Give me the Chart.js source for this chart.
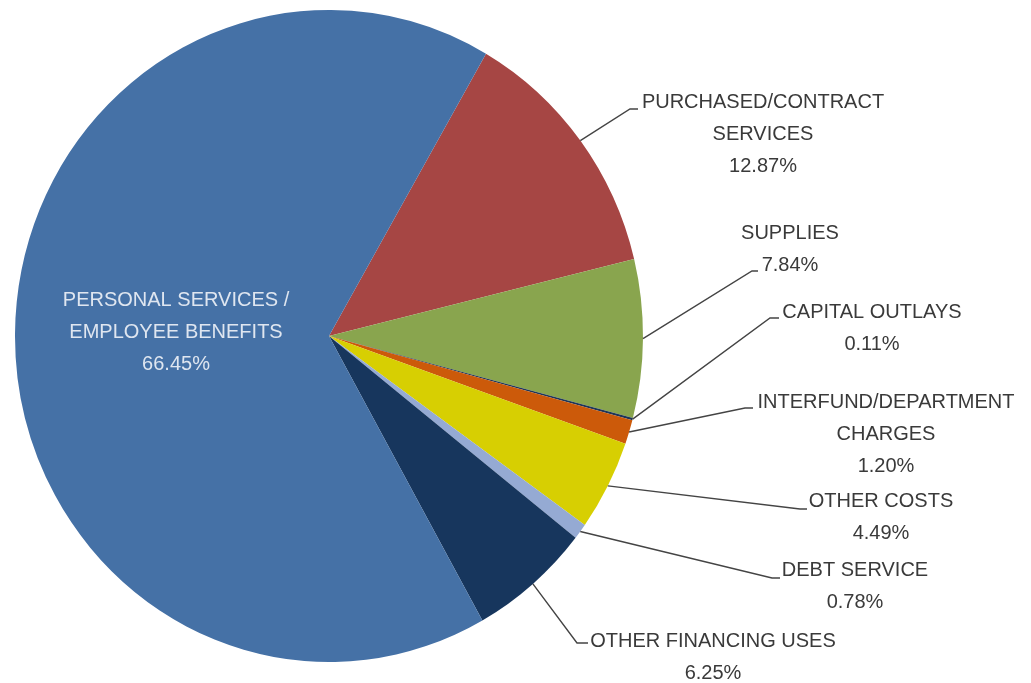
<!DOCTYPE html>
<html>
<head>
<meta charset="utf-8">
<script src="https://cdn.jsdelivr.net/npm/chart.js@4/dist/chart.umd.min.js"></script>
<style>
  html, body { margin: 0; padding: 0; background: #ffffff; }
  canvas { display: block; }
</style>
</head>
<body>
<canvas id="c" width="1031" height="683"></canvas>
<script>
// ---- data ----
const categories = [
  'PURCHASED/CONTRACT SERVICES',
  'SUPPLIES',
  'CAPITAL OUTLAYS',
  'INTERFUND/DEPARTMENT CHARGES',
  'OTHER COSTS',
  'DEBT SERVICE',
  'OTHER FINANCING USES',
  'PERSONAL SERVICES / EMPLOYEE BENEFITS'
];
const labelLines = [
  ['PURCHASED/CONTRACT', 'SERVICES'],
  ['SUPPLIES'],
  ['CAPITAL OUTLAYS'],
  ['INTERFUND/DEPARTMENT', 'CHARGES'],
  ['OTHER COSTS'],
  ['DEBT SERVICE'],
  ['OTHER FINANCING USES'],
  ['PERSONAL SERVICES /', 'EMPLOYEE BENEFITS']
];
const values = [12.87, 7.84, 0.11, 1.20, 4.49, 0.78, 6.25, 66.45];
const colors = ['#A64644', '#89A54E', '#1F3657', '#CC5A0A', '#D7CF02', '#95AAD3', '#17365D', '#4571A6'];

// ---- label layout (text centre x, first line centre y, leader elbow, leader end) ----
const labelLayout = [
  { cx: 763, y: 102, elbow: [630, 109], end: [638, 109] },
  { cx: 790, y: 233, elbow: [752, 271], end: [758, 271] },
  { cx: 872, y: 312, elbow: [770, 318], end: [779, 318] },
  { cx: 886, y: 402, elbow: [745, 408], end: [753, 408] },
  { cx: 881, y: 501, elbow: [800, 509], end: [807, 509] },
  { cx: 855, y: 570, elbow: [772, 578], end: [780, 578] },
  { cx: 713, y: 641, elbow: [577, 643], end: [588, 643] },
  { cx: 176, y: 300, inside: true }
];
const lineGap = 32;
const ellipse = { sx: 314 / 320, sy: 326 / 320 };

const ellipsePlugin = {
  id: 'ellipse',
  beforeDatasetsDraw(chart) {
    const arc = chart.getDatasetMeta(0).data[0];
    const ctx = chart.ctx;
    ctx.save();
    ctx.translate(arc.x, arc.y);
    ctx.scale(ellipse.sx, ellipse.sy);
    ctx.translate(-arc.x, -arc.y);
  },
  afterDatasetsDraw(chart) {
    chart.ctx.restore();
  }
};

const labelPlugin = {
  id: 'labels',
  afterDraw(chart) {
    const ctx = chart.ctx;
    const meta = chart.getDatasetMeta(0);
    ctx.save();
    ctx.font = '20px "Liberation Sans", Arial, sans-serif';
    ctx.textAlign = 'center';
    ctx.textBaseline = 'middle';
    meta.data.forEach((arc, i) => {
      const L = labelLayout[i];
      const lines = labelLines[i].concat([values[i].toFixed(2) + '%']);
      if (!L.inside) {
        const mid = (arc.startAngle + arc.endAngle) / 2;
        const sx = arc.x + Math.cos(mid) * arc.outerRadius * ellipse.sx;
        const sy = arc.y + Math.sin(mid) * arc.outerRadius * ellipse.sy;
        ctx.strokeStyle = '#444444';
        ctx.lineWidth = 1.4;
        ctx.beginPath();
        ctx.moveTo(sx, sy);
        ctx.lineTo(L.elbow[0], L.elbow[1]);
        ctx.lineTo(L.end[0], L.end[1]);
        ctx.stroke();
        ctx.fillStyle = '#3a3a3a';
      } else {
        ctx.fillStyle = '#dfe6f0';
      }
      lines.forEach((t, k) => {
        ctx.fillText(t, L.cx, L.y + k * lineGap);
      });
    });
    ctx.restore();
  }
};

new Chart(document.getElementById('c'), {
  type: 'pie',
  data: {
    labels: categories,
    datasets: [{
      data: values,
      backgroundColor: colors,
      borderWidth: 0
    }]
  },
  options: {
    responsive: false,
    animation: false,
    rotation: 30,
    layout: { padding: { left: 9, top: 16, right: 382, bottom: 27 } },
    plugins: {
      legend: { display: false },
      tooltip: { enabled: false }
    }
  },
  plugins: [ellipsePlugin, labelPlugin]
});
</script>
</body>
</html>
